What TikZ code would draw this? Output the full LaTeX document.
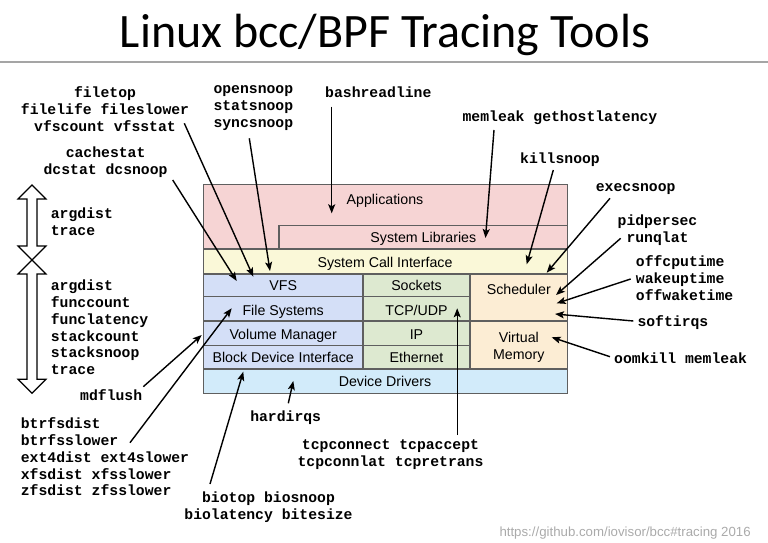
\documentclass[tikz,border=0pt]{standalone}
\usepackage{fontspec}
\usetikzlibrary{arrows.meta}
\newfontfamily\titlefont{Carlito}
\newfontfamily\boxfamily{Liberation Sans}
\newfontfamily\monofamily{Liberation Mono}
\definecolor{appPink}{RGB}{246,212,212}
\definecolor{sciYellow}{RGB}{250,248,216}
\definecolor{fsBlue}{RGB}{212,223,247}
\definecolor{netGreen}{RGB}{221,233,208}
\definecolor{schPeach}{RGB}{252,237,212}
\definecolor{ddCyan}{RGB}{210,235,250}
\definecolor{bordergray}{RGB}{95,95,95}
\definecolor{rulegray}{RGB}{165,165,165}
\definecolor{urlgray}{RGB}{170,170,170}
\begin{document}
\begin{tikzpicture}[x=1bp,y=-1bp,
  tool/.style={font={\monofamily\bfseries\fontsize{14.75bp}{16.8bp}\selectfont}, inner sep=0pt, anchor=north, align=center},
  toolL/.style={tool, anchor=north west, align=left},
  layer/.style={draw=bordergray, line width=1.1bp},
  lbl/.style={font={\boxfamily\fontsize{14.2bp}{17bp}\selectfont}, inner sep=0pt, anchor=base},
  lblm/.style={lbl, anchor=north, align=center},
  arr/.style={-{Stealth[length=9bp,width=7bp,inset=2bp]}, line width=1.4bp},
  dbl/.style={draw=black, line width=1.2bp, fill=white, line join=miter}
]
\useasboundingbox (0,0) rectangle (768,543);

% title
\node[font={\titlefont\fontsize{48bp}{57bp}\selectfont}, anchor=base, inner sep=0pt] (title) at (385,48) {Linux bcc/BPF Tracing Tools};
\draw[rulegray, line width=1.5bp] (0,62) -- (768,62);

% layers
\path[layer, fill=appPink] (203.3,184.3) rectangle (567.7,249);
\path[layer, fill=appPink] (279,225.7) rectangle (567.7,249);
\path[layer, fill=sciYellow] (203.3,249) rectangle (567.7,274);
\path[layer, fill=fsBlue] (203.3,274) rectangle (363,296.7);
\path[layer, fill=fsBlue] (203.3,296.7) rectangle (363,321);
\path[layer, fill=fsBlue] (203.3,321) rectangle (363,345.7);
\path[layer, fill=fsBlue] (203.3,345.7) rectangle (363,369);
\path[layer, fill=netGreen] (363,274) rectangle (470,296.7);
\path[layer, fill=netGreen] (363,296.7) rectangle (470,321);
\path[layer, fill=netGreen] (363,321) rectangle (470,345.7);
\path[layer, fill=netGreen] (363,345.7) rectangle (470,369);
\path[layer, fill=schPeach] (470,274) rectangle (567.7,321);
\path[layer, fill=schPeach] (470,321) rectangle (567.7,369);
\path[layer, fill=ddCyan] (203.3,369) rectangle (567.7,393.3);

% layer labels
\node[lbl] (apps) at (385,205) {Applications};
\node[lbl] (syslib) at (423.3,242.8) {System Libraries};
\node[lbl] (sci) at (385,267.4) {System Call Interface};
\node[lbl] (vfs) at (283.2,290.8) {VFS};
\node[lbl] (fs) at (283.2,315.1) {File Systems};
\node[lbl] (vol) at (283.2,339.1) {Volume Manager};
\node[lbl] (bdi) at (283.2,362.8) {Block Device Interface};
\node[lbl] (sock) at (416.5,290.8) {Sockets};
\node[lbl] (tcpudp) at (416.5,315.1) {TCP/UDP};
\node[lbl] (ip) at (416.5,339.1) {IP};
\node[lbl] (eth) at (416.5,362.8) {Ethernet};
\node[lbl] (sched) at (518.8,294.4) {Scheduler};
\node[lblm] (vm) at (518.8,330.5) {\strut Virtual\\Memory};
\node[lbl] (dd) at (385,386.8) {Device Drivers};

% tool labels
\node[tool] (filetop) at (105,86) {\strut filetop\\filelife fileslower\\vfscount vfsstat};
\node[tool] (cachestat) at (105.6,145.4) {\strut cachestat\\dcstat dcsnoop};
\node[toolL] (opensnoop) at (213.3,82) {\strut opensnoop\\statsnoop\\syncsnoop};
\node[toolL] (bashrl) at (325,86) {\strut bashreadline};
\node[tool] (memleak) at (560,109.4) {\strut memleak gethostlatency};
\node[tool] (killsnoop) at (560,151.7) {\strut killsnoop};
\node[tool] (execsnoop) at (635.7,179.4) {\strut execsnoop};
\node[tool] (pidpersec) at (657.5,213.4) {\strut pidpersec\\runqlat};
\node[toolL] (offcpu) at (635.7,255) {\strut offcputime\\wakeuptime\\offwaketime};
\node[toolL] (softirqs) at (637.3,314.4) {\strut softirqs};
\node[toolL] (oomkill) at (614,352) {\strut oomkill memleak};
\node[toolL] (argdistA) at (50.7,206.7) {\strut argdist\\trace};
\node[toolL] (argdistB) at (50.7,278.7) {\strut argdist\\funccount\\funclatency\\stackcount\\stacksnoop\\trace};
\node[toolL] (mdflush) at (80,388.4) {\strut mdflush};
\node[toolL] (btrfs) at (20.7,416.7) {\strut btrfsdist\\btrfsslower\\ext4dist ext4slower\\xfsdist xfsslower\\zfsdist zfsslower};
\node[tool] (hardirqs) at (285.7,409.4) {\strut hardirqs};
\node[tool] (tcp) at (390.5,437.7) {\strut tcpconnect tcpaccept\\tcpconnlat tcpretrans};
\node[tool] (bio) at (268.5,490.4) {\strut biotop biosnoop\\biolatency bitesize};

\node[font={\boxfamily\fontsize{13.25bp}{16bp}\selectfont}, text=urlgray, anchor=base west, inner sep=0pt] (url) at (499.3,536.5) {https://github.com/iovisor/bcc\#tracing 2016};

% double arrows
\path[dbl] (32,185) -- (46,199) -- (37,199) -- (37,246) -- (46,246) -- (32,260) -- (18,246) -- (27,246) -- (27,199) -- (18,199) -- cycle;
\path[dbl] (32,260) -- (46,274) -- (37,274) -- (37,379.3) -- (46,379.3) -- (32,393.3) -- (18,379.3) -- (27,379.3) -- (27,274) -- (18,274) -- cycle;

% arrow endpoints
\coordinate (filetop-s) at (184.3,123.3);   \coordinate (filetop-t) at (253.3,276.7);
\coordinate (opensnoop-s) at (249.3,138.3); \coordinate (opensnoop-t) at (270,271);
\coordinate (cachestat-s) at (172.7,180);   \coordinate (cachestat-t) at (236.7,281);
\coordinate (bashrl-s) at (331.7,106.7);    \coordinate (bashrl-t) at (331.7,213.3);
\coordinate (memleak-s) at (494,130);       \coordinate (memleak-t) at (485.5,238);
\coordinate (killsnoop-s) at (553.3,170);   \coordinate (killsnoop-t) at (526.7,264.3);
\coordinate (execsnoop-s) at (610,198.3);   \coordinate (execsnoop-t) at (546.7,272.7);
\coordinate (pidpersec-s) at (620.7,238.3); \coordinate (pidpersec-t) at (556,295);
\coordinate (offcpu-s) at (630.7,279);      \coordinate (offcpu-t) at (556.7,303.3);
\coordinate (softirqs-s) at (633.3,321);    \coordinate (softirqs-t) at (555,314);
\coordinate (oomkill-s) at (610,356.7);     \coordinate (oomkill-t) at (551.7,337.3);
\coordinate (tcp-s) at (457.2,435);         \coordinate (tcp-t) at (457.2,308.3);
\coordinate (mdflush-s) at (143.3,386.7);   \coordinate (mdflush-t) at (201.7,335);
\coordinate (btrfs-s) at (130,442.7);       \coordinate (btrfs-t) at (231.7,308.3);
\coordinate (bio-s) at (210,484);           \coordinate (bio-t) at (243.3,371.7);
\coordinate (hardirqs-s) at (288.3,403.3);  \coordinate (hardirqs-t) at (293.3,381);

\foreach \n in {filetop,opensnoop,cachestat,bashrl,memleak,killsnoop,execsnoop,pidpersec,offcpu,softirqs,oomkill,tcp,mdflush,btrfs,bio,hardirqs}
  \draw[arr] (\n-s) -- (\n-t);
\end{tikzpicture}
\end{document}
